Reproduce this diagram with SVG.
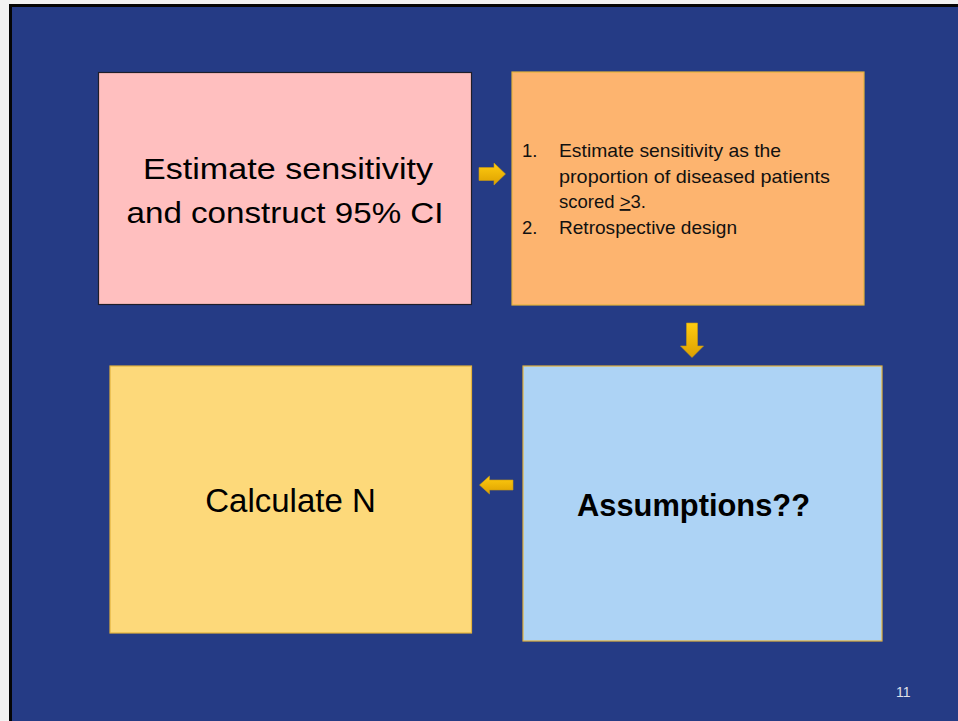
<svg xmlns="http://www.w3.org/2000/svg" width="958" height="721" viewBox="0 0 958 721">
<defs>
<style>
.node-text{font-family:"Liberation Sans",Arial,sans-serif;fill:#000}
.list{font-family:"Liberation Sans",Arial,sans-serif;font-size:18.5px;fill:#111}
.gold{stroke:#E3B23C;stroke-width:1.2}
.arrow{fill:url(#goldGrad);stroke:#C99A10;stroke-width:0.6}
</style>
<linearGradient id="goldGrad" x1="0" y1="0" x2="0" y2="1">
<stop offset="0" stop-color="#FFCC10"/>
<stop offset="1" stop-color="#DDA000"/>
</linearGradient>
<linearGradient id="goldGradH" x1="0" y1="0" x2="1" y2="0">
<stop offset="0" stop-color="#FFCC10"/>
<stop offset="1" stop-color="#DDA000"/>
</linearGradient>
</defs>
<rect x="0" y="0" width="958" height="721" fill="#F2F2F2"/>
<rect x="10.5" y="5.5" width="948" height="716" fill="#253B85" stroke="#050505" stroke-width="3"/>
<rect x="12" y="7" width="946" height="714" fill="#253B85"/>

<g id="node-estimate">
<rect x="98.5" y="72.5" width="373" height="232" fill="#FFBFBF" stroke="#1E1E2A" stroke-width="1.2"/>
<text class="node-text" x="288" y="179" font-size="29" text-anchor="middle" textLength="290" lengthAdjust="spacingAndGlyphs">Estimate sensitivity</text>
<text class="node-text" x="285" y="223" font-size="29" text-anchor="middle" textLength="317" lengthAdjust="spacingAndGlyphs">and construct 95% CI</text>
</g>

<g id="node-steps">
<rect x="512" y="72" width="352" height="233" fill="#FDB46F" class="gold"/>
<text class="list" x="522" y="157">1.</text>
<text class="list" x="559" y="157" textLength="222" lengthAdjust="spacingAndGlyphs">Estimate sensitivity as the</text>
<text class="list" x="559" y="182.5" textLength="271" lengthAdjust="spacingAndGlyphs">proportion of diseased patients</text>
<text class="list" x="559" y="208">scored <tspan text-decoration="underline">&gt;</tspan>3.</text>
<text class="list" x="522" y="234">2.</text>
<text class="list" x="559" y="234" textLength="178" lengthAdjust="spacingAndGlyphs">Retrospective design</text>
</g>

<g id="node-assumptions">
<rect x="523" y="366" width="359" height="275" fill="#ADD3F5" class="gold" stroke-width="1.5"/>
<text class="node-text" x="577" y="516" font-size="32" font-weight="bold" textLength="233" lengthAdjust="spacingAndGlyphs">Assumptions??</text>
</g>

<g id="node-calculate">
<rect x="110" y="366" width="361.5" height="267" fill="#FDD97A" class="gold"/>
<text class="node-text" x="290.5" y="512" font-size="33" text-anchor="middle">Calculate N</text>
</g>

<g id="connectors">
<path class="arrow" d="M479,167.5 H494 V163 L505.5,174 L494,185 V180.5 H479 Z"/>
<path class="arrow" d="M686.5,323 H697.5 V346 H703.5 L692,357.5 L680.5,346 H686.5 Z"/>
<path class="arrow" d="M513,480 H489.5 V476 L479.5,485 L489.5,494 V490 H513 Z"/>
</g>

<text x="896" y="697" font-family="Liberation Sans,Arial,sans-serif" font-size="14" fill="#E0E0E8">11</text>
</svg>
